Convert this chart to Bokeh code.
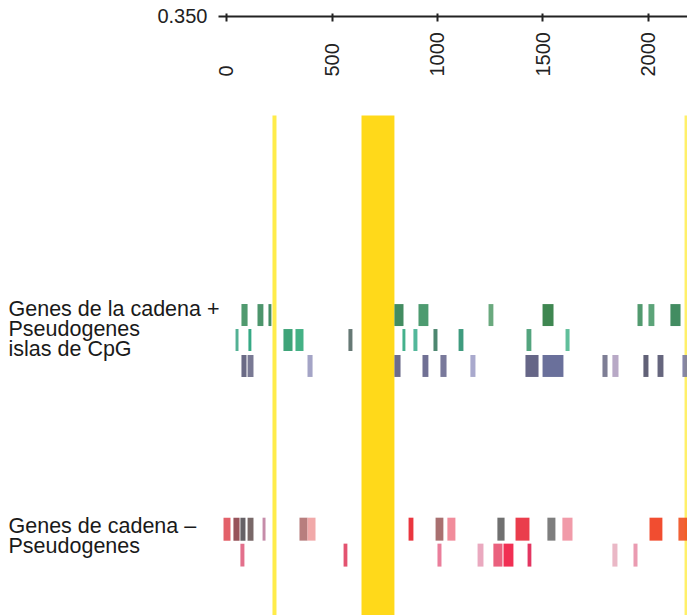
from bokeh.plotting import figure
from bokeh.layouts import column
from bokeh.models import FixedTicker, NumeralTickFormatter, Range1d, ColumnDataSource
from bokeh.core.properties import value
from bokeh.embed import file_html
from bokeh.resources import INLINE

FONT = "Liberation Sans"

# ---------------- data ----------------
tick_values = [0, 500, 1000, 1500, 2000]
y_tick = [0.350]

# highlighted regions (start, end)
band_start = [218, 640, 2171]
band_end = [237, 796, 2185]
band_color = ["#ffec4a", "#ffd91a", "#fff06a"]

# strand + genes
plus_genes_start = [71, 147, 199, 796, 910, 1242, 1498, 1948, 2000, 2104]
plus_genes_end = [100, 175, 213, 839, 957, 1265, 1550, 1972, 2028, 2152]
plus_genes_color = ["#3d8f5f", "#3a8a5c", "#2f7f52", "#2f8050", "#3a9060",
                    "#5aa070", "#2a7a3e", "#3f8f5f", "#4a9a6a", "#2e7f50"]

# + pseudogenes
plus_pseudo_start = [43, 104, 270, 327, 578, 834, 886, 981, 1100, 1422, 1607]
plus_pseudo_end = [57, 118, 313, 365, 597, 848, 905, 1000, 1123, 1445, 1626]
plus_pseudo_color = ["#40a888", "#20a078", "#2a9a6a", "#30a878", "#556a66", "#30a880",
                     "#40b090", "#3a7a60", "#2a9070", "#409a70", "#50b890"]

# CpG islands
cpg_start = [71, 100, 384, 796, 929, 1014, 1156, 1417, 1498, 1782, 1829, 1976, 2043, 2161]
cpg_end = [95, 128, 408, 825, 957, 1043, 1180, 1479, 1597, 1806, 1858, 2000, 2071, 2185]
cpg_color = ["#5a5a78", "#6a6a88", "#9a9ac0", "#5c5c80", "#606088", "#6a6a90", "#a0a0c8",
             "#55557a", "#5a6090", "#70708a", "#b0a0c0", "#505068", "#555570", "#7a7aa0"]

# strand - genes
minus_genes_start = [-14, 33, 66, 100, 171, 346, 384, 863, 991, 1047, 1284, 1370, 1521, 1592, 2005, 2142]
minus_genes_end = [19, 62, 90, 128, 185, 384, 422, 886, 1028, 1085, 1318, 1436, 1559, 1640, 2066, 2185]
minus_genes_color = ["#e0505a", "#8c4048", "#555055", "#6a5858", "#c080a0", "#b07070",
                     "#f0a0a0", "#e8202a", "#a06060", "#f08090", "#606060", "#e82838",
                     "#707070", "#f090a0", "#f03a1a", "#f05020"]

# - pseudogenes
minus_pseudo_start = [66, 555, 1000, 1190, 1265, 1313, 1427, 1829, 1929]
minus_pseudo_end = [85, 573, 1019, 1218, 1308, 1360, 1445, 1853, 1948]
minus_pseudo_color = ["#e06080", "#e04060", "#e87090", "#e8a0b8", "#e85070",
                      "#f01840", "#e02050", "#e8b0c0", "#e890a8"]

track_labels = ["Genes de la cadena +", "Pseudogenes", "islas de CpG",
                "Genes de cadena \u2013", "Pseudogenes"]

# ---------------- layout (track rows in the lower panel, pixel-like units) ----------------
rows = [(224, 246), (249, 271), (275, 297), (438, 461), (464, 487)]
label_baselines = [229, 249, 269, 446, 466]
label_x = -1033
band_top = 35

# ---------------- top panel: axis strip ----------------
pa = figure(width=687, height=29, x_range=Range1d(-38, 2185), y_range=Range1d(0.34999, 0.351),
            toolbar_location=None, output_backend="svg",
            min_border_left=218, min_border_right=0, min_border_top=7, min_border_bottom=13)
pa.outline_line_color = None
pa.grid.visible = False

xa = pa.xaxis[0]
xa.ticker = FixedTicker(ticks=tick_values)
xa.major_label_overrides = {t: "" for t in tick_values}
xa.major_label_text_font_size = "1px"
xa.major_label_standoff = 0
xa.axis_line_color = "#222222"
xa.axis_line_width = 2
xa.major_tick_line_color = "#222222"
xa.major_tick_line_width = 2
xa.major_tick_in = 3
xa.major_tick_out = 5
xa.minor_tick_line_color = None
xa.minor_tick_out = 0

ya = pa.yaxis[0]
ya.ticker = FixedTicker(ticks=y_tick)
ya.formatter = NumeralTickFormatter(format="0.000")
ya.axis_line_color = None
ya.major_tick_line_color = None
ya.major_tick_in = 0
ya.major_tick_out = 0
ya.minor_tick_line_color = None
ya.major_label_standoff = 11
ya.major_label_text_font = FONT
ya.major_label_text_font_size = "20px"
ya.major_label_text_color = "#222222"

# ---------------- lower panel: tracks ----------------
pb = figure(width=687, height=586, x_range=Range1d(-1071, 2185), y_range=Range1d(536, 0),
            x_axis_location="above", y_axis_location=None,
            toolbar_location=None, output_backend="svg",
            min_border_left=0, min_border_right=0, min_border_top=50, min_border_bottom=0)
pb.outline_line_color = None
pb.grid.visible = False

xb = pb.xaxis[0]
xb.ticker = FixedTicker(ticks=tick_values)
xb.major_label_orientation = "vertical"
xb.major_label_standoff = 4
xb.axis_line_color = None
xb.major_tick_line_color = None
xb.minor_tick_line_color = None
xb.major_tick_in = 0
xb.major_tick_out = 0
xb.minor_tick_in = 0
xb.minor_tick_out = 0
xb.major_label_text_font = FONT
xb.major_label_text_font_size = "20px"
xb.major_label_text_color = "#222222"

# highlight bands
pb.quad(left=band_start, right=band_end, top=[band_top] * len(band_start),
        bottom=[536] * len(band_start), fill_color=band_color, line_color=None)

tracks = [
    (plus_genes_start, plus_genes_end, plus_genes_color),
    (plus_pseudo_start, plus_pseudo_end, plus_pseudo_color),
    (cpg_start, cpg_end, cpg_color),
    (minus_genes_start, minus_genes_end, minus_genes_color),
    (minus_pseudo_start, minus_pseudo_end, minus_pseudo_color),
]
for (starts, ends, colors), (top, bottom) in zip(tracks, rows):
    src = ColumnDataSource(dict(left=starts, right=ends, color=colors,
                                top=[top] * len(starts), bottom=[bottom] * len(starts)))
    pb.quad(left="left", right="right", top="top", bottom="bottom", source=src,
            fill_color="color", fill_alpha=0.9, line_color=None)

pb.text(x=[label_x] * len(track_labels), y=label_baselines, text=track_labels,
        text_font=value(FONT), text_font_size="21.5px", text_color="#1a1a1a",
        text_align="left", text_baseline="alphabetic")

layout = column(column(pa), column(pb), spacing=0)
open("out.html", "w").write(file_html(layout, INLINE))
